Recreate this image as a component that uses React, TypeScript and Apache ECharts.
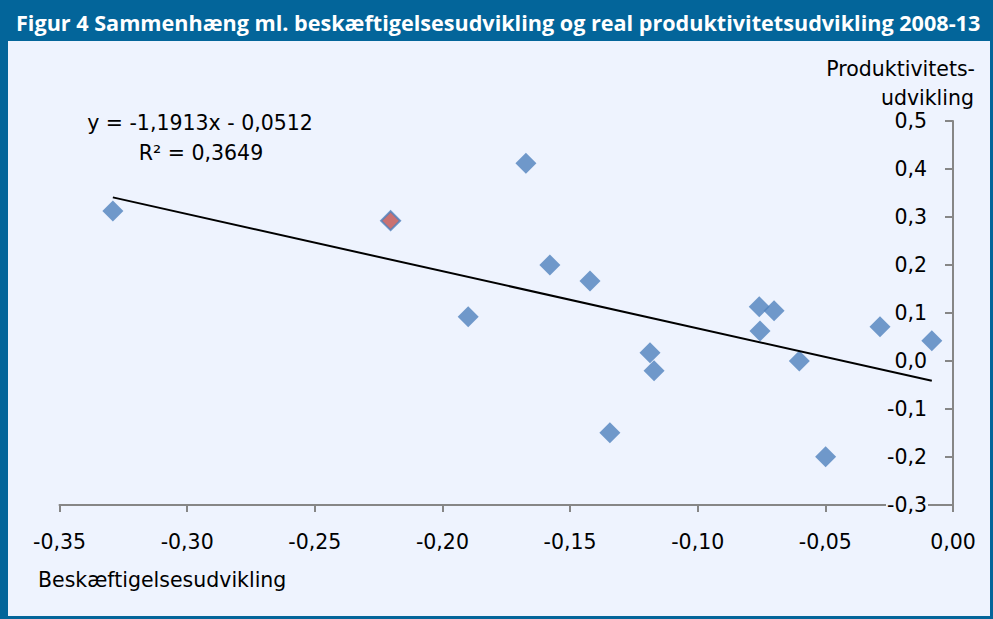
import React, { useEffect, useRef } from "react";
import * as echarts from "echarts";

const titleText =
  "Figur 4 Sammenhæng ml. beskæftigelsesudvikling og real produktivitetsudvikling 2008-13";
const xAxisName = "Beskæftigelsesudvikling";
const yAxisNameLines = ["Produktivitets-", "udvikling"];

// Employment development (x) and productivity development (y)
const employmentDev = [
  -0.3291, -0.1673, -0.1899, -0.1579, -0.1422, -0.1187, -0.1171, -0.1344,
  -0.0759, -0.0701, -0.0756, -0.0602, -0.0499, -0.0286, -0.0083,
];
const productivityDev = [
  0.3125, 0.4119, 0.0923, 0.2, 0.1667, 0.0173, -0.0202, -0.1494, 0.1131,
  0.1048, 0.0625, 0.0, -0.1994, 0.0715, 0.0423,
];
// Highlighted observation (red marker)
const highlightX = [-0.2203];
const highlightY = [0.2923];

// Linear trend from the chart
const trendSlope = -1.1913;
const trendIntercept = -0.0512;
const equationText = "y = -1,1913x - 0,0512";
const r2Text = "R² = 0,3649";

const xMin = -0.35;
const xMax = 0;
const xInterval = 0.05;
const yMin = -0.3;
const yMax = 0.5;
const yInterval = 0.1;

const FRAME = "#03659A";
const BG = "#EEF3FE";
const BLUE = "#4F81BD";
const RED = "#C0504D";
const AXIS = "#868686";
const TITLE_FONT = "'Open Sans', Lato, sans-serif";
const FONT = "'DejaVu Sans', 'Open Sans', sans-serif";
const FS = 20.5;

export default function App() {
  const ref = useRef<HTMLDivElement>(null);

  useEffect(() => {
    document.body.style.margin = "0";
    if (!ref.current) return;
    const chart = echarts.init(ref.current, null, { renderer: "svg" });

    const allX = employmentDev.concat(highlightX);
    const tx0 = Math.min(...allX);
    const tx1 = Math.max(...allX);
    const trend = [
      [tx0, trendSlope * tx0 + trendIntercept],
      [tx1, trendSlope * tx1 + trendIntercept],
    ];

    const txt = (text: string, x: number, y: number, align: string) => ({
      type: "text",
      x,
      y,
      z: 4,
      style: {
        text,
        align,
        verticalAlign: "middle",
        fill: "#000",
        font: `${FS}px ${FONT}`,
      },
    });

    chart.setOption({
      animation: false,
      backgroundColor: BG,
      textStyle: { fontFamily: FONT },
      title: {
        text: titleText,
        left: 11,
        top: 6,
        textStyle: {
          color: "#ffffff",
          fontFamily: TITLE_FONT,
          fontWeight: "bold",
          fontSize: 21.6,
        },
        z: 10,
      },
      graphic: [
        { type: "rect", shape: { x: 0, y: 0, width: 993, height: 41 }, style: { fill: FRAME }, z: 1 },
        { type: "rect", shape: { x: 0, y: 0, width: 8, height: 619 }, style: { fill: FRAME }, z: 1 },
        { type: "rect", shape: { x: 990, y: 0, width: 3, height: 619 }, style: { fill: FRAME }, z: 1 },
        { type: "rect", shape: { x: 0, y: 616, width: 993, height: 3 }, style: { fill: FRAME }, z: 1 },
        txt(yAxisNameLines[0], 975, 69, "right"),
        txt(yAxisNameLines[1], 974, 98, "right"),
        txt(xAxisName, 38, 580, "left"),
        txt(equationText, 200, 123, "center"),
        txt(r2Text, 201, 153, "center"),
      ],
      grid: { left: 59.5, right: 40, top: 121, bottom: 114 },
      xAxis: {
        type: "value",
        min: xMin,
        max: xMax,
        interval: xInterval,
        position: "bottom",
        axisLine: { onZero: false, lineStyle: { color: AXIS, width: 2 } },
        axisTick: { show: true, length: 7, lineStyle: { color: AXIS, width: 2 } },
        splitLine: { show: false },
        axisLabel: {
          margin: 26,
          color: "#000",
          fontSize: FS,
          fontFamily: FONT,
          formatter: (v: number) => v.toFixed(2).replace(".", ",").replace("-0,00", "0,00"),
        },
      },
      yAxis: {
        type: "value",
        min: yMin,
        max: yMax,
        interval: yInterval,
        position: "right",
        z: 5,
        axisLine: { onZero: false, lineStyle: { color: AXIS, width: 2 } },
        axisTick: { show: true, inside: true, length: 8, lineStyle: { color: AXIS, width: 2 } },
        splitLine: { show: false },
        axisLabel: {
          inside: true,
          margin: 25,
          color: "#000",
          fontSize: FS,
          fontFamily: FONT,
          backgroundColor: BG,
          padding: [0, 1],
          lineHeight: 20,
          formatter: (v: number) => v.toFixed(1).replace(".", ",").replace("-0,0", "0,0"),
        },
      },
      series: [
        {
          type: "scatter",
          symbol: "diamond",
          symbolSize: 21,
          itemStyle: { color: BLUE },
          data: employmentDev.map((x, i) => [x, productivityDev[i]]),
          z: 2,
        },
        {
          type: "scatter",
          symbol: "diamond",
          symbolSize: 19,
          itemStyle: { color: RED, borderColor: BLUE, borderWidth: 2 },
          data: highlightX.map((x, i) => [x, highlightY[i]]),
          z: 2,
        },
        {
          type: "line",
          data: trend,
          symbol: "none",
          lineStyle: { color: "#000", width: 2 },
          z: 3,
        },
      ],
    });

    return () => chart.dispose();
  }, []);

  return <div ref={ref} style={{ width: 993, height: 619 }} />;
}
